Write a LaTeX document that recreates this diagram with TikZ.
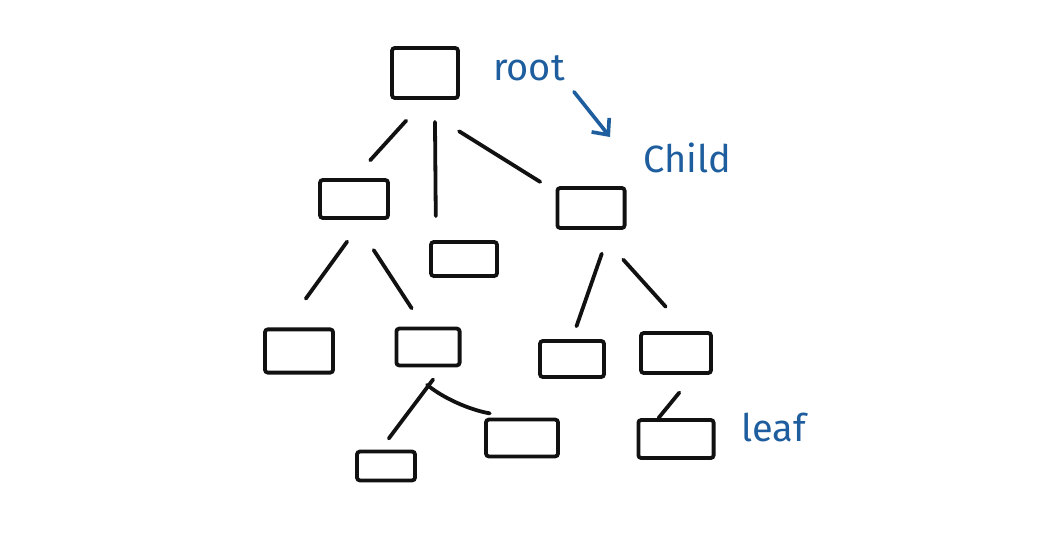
\documentclass[tikz,border=0pt]{standalone}
\usepackage{fontspec}
\setmainfont{Fira Sans}
\usetikzlibrary{arrows.meta}
\definecolor{inkblue}{HTML}{1F5E9E}
\definecolor{inkblack}{HTML}{111111}

\begin{document}
\begin{tikzpicture}[
  x=0.025cm, y=-0.025cm,
  box/.style 2 args={rectangle, draw=inkblack, line width=2.7pt, rounded corners=2pt,
                     minimum width=#1cm, minimum height=#2cm, inner sep=0pt},
  branch/.style={draw=inkblack, line width=2.7pt, line cap=round},
  note/.style={text=inkblue, font=\fontsize{27}{30}\selectfont, inner sep=1pt},
  pointer/.style={draw=inkblue, line width=2.6pt, line cap=round,
                  -{Straight Barb[length=9pt, width=16pt]}},
]
  \fill[white] (0,0) rectangle (1043,537);
  \useasboundingbox (0,0) rectangle (1043,537);

  % boxes
  \node[box={1.65}{1.25}] (root) at (425,73) {};
  \node[box={1.7}{0.95}]  (cL)   at (354,199) {};
  \node[box={1.65}{0.85}] (cM)   at (464,259) {};
  \node[box={1.68}{1.0}]  (cR)   at (591,208) {};
  \node[box={1.7}{1.08}]  (cLL)  at (299,351) {};
  \node[box={1.58}{0.92}] (cLR)  at (428,347) {};
  \node[box={1.6}{0.9}]   (cRL)  at (572,359) {};
  \node[box={1.75}{1.0}]  (cRR)  at (676,353) {};
  \node[box={1.45}{0.72}] (cLRL) at (386,466) {};
  \node[box={1.8}{0.92}]  (cLRR) at (522,438) {};
  \node[box={1.88}{0.95}] (cRRR) at (676,439) {};

  % branches
  \draw[branch, shorten <=0.7cm, shorten >=0.6cm] (root.south) -- (cL.north);
  \draw[branch, shorten <=0.55cm, shorten >=0.6cm] (root.-70) -- (cM.146);
  \draw[branch, shorten <=1.48cm, shorten >=0.45cm] (root.-121) -- (cR.155);
  \draw[branch, shorten <=0.67cm, shorten >=0.89cm] (cL.-67) -- (cLL.121);
  \draw[branch, shorten <=0.9cm, shorten >=0.55cm] (cL.south) -- (cLR.102);
  \draw[branch, shorten <=0.63cm, shorten >=0.34cm] (cR.-49) -- (cRL.north);
  \draw[branch, shorten <=1cm, shorten >=0.82cm] (cR.-76) -- (cRR.62);
  \draw[branch, shorten <=0.38cm, shorten >=0.35cm] (cLR.-55) -- (cLRL.109);
  \draw[branch, shorten <=0.68cm, shorten >=0.62cm] (cLR.-137) to[bend right=15] (cLRR.111);
  \draw[branch, shorten <=0.57cm] (cRR.-51.5) -- (cRRR.130);

  % labels
  \node[note] (lroot)  at (529,68)  {root};
  \node[note] (lchild) at (687,158) {Child};
  \node[note] (lleaf)  at (774,427) {leaf};
  \coordinate (tip) at (610,137);
  \draw[pointer, shorten <=0.3cm] (lroot.south east) -- (tip);
\end{tikzpicture}
\end{document}
